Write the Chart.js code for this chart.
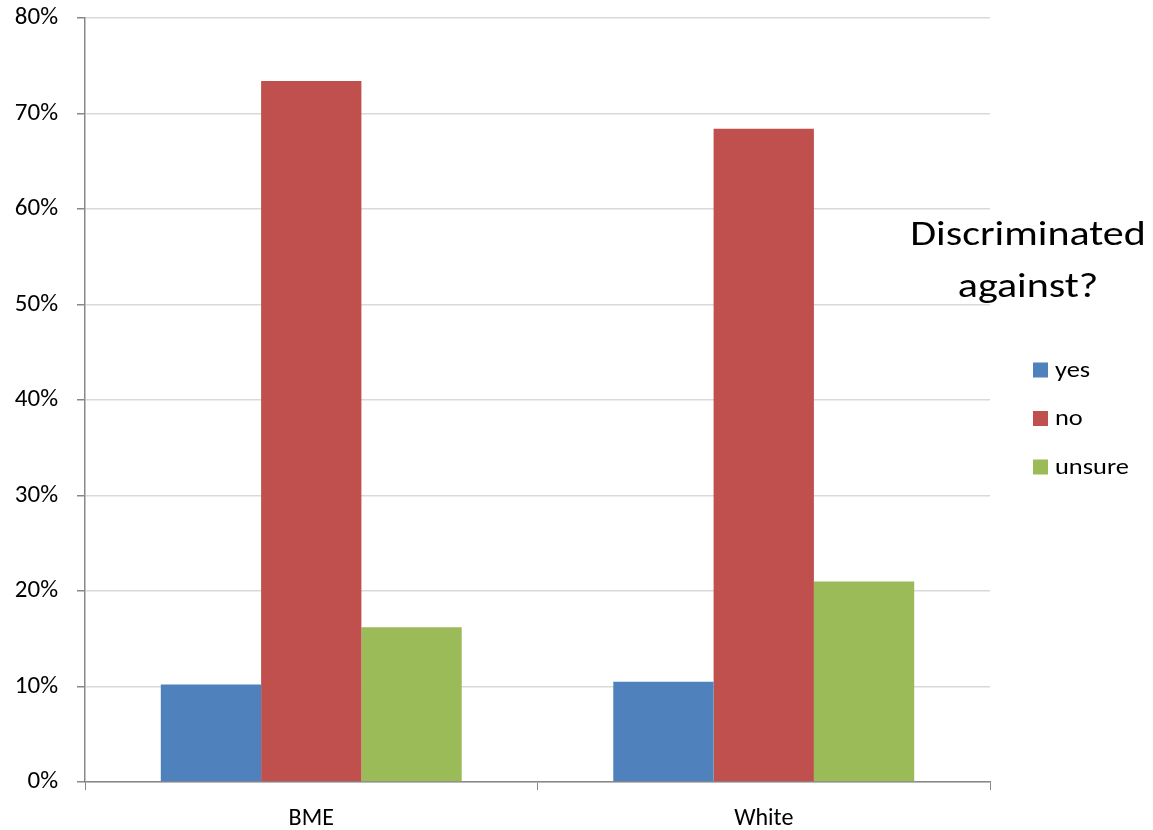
<!DOCTYPE html>
<html>
<head>
<meta charset="utf-8">
<script src="https://cdn.jsdelivr.net/npm/chart.js@4/dist/chart.umd.min.js"></script>
<style>
  html, body { margin: 0; padding: 0; background: #ffffff; }
  canvas { display: block; }
</style>
</head>
<body>
<canvas id="c" width="1153" height="830"></canvas>
<script>
const categories = ["BME", "White"];
const seriesNames = ["yes", "no", "unsure"];
const yesValues = [10.2, 10.5];
const noValues = [73.4, 68.4];
const unsureValues = [16.2, 21.0];
const seriesColors = ["#4F81BD", "#C0504D", "#9BBB59"];
const legendTitleLines = ["Discriminated", "against?"];
const yMax = 80;
const yStep = 10;

const FONT = "Carlito, Calibri, 'Liberation Sans', Arial, sans-serif";

function stretchedText(ctx, text, x, y, sx) {
  ctx.save();
  ctx.translate(x, y);
  ctx.scale(sx, 1);
  ctx.fillText(text, 0, 0);
  ctx.restore();
}

const legendPlugin = {
  id: 'customLegend',
  afterDraw(chart) {
    const ctx = chart.ctx;
    ctx.save();
    ctx.fillStyle = '#000';
    ctx.textAlign = 'center';
    ctx.textBaseline = 'alphabetic';
    ctx.font = "35px " + FONT;
    stretchedText(ctx, legendTitleLines[0], 1028, 245, 1.2);
    stretchedText(ctx, legendTitleLines[1], 1028, 297, 1.2);
    ctx.font = "22px " + FONT;
    ctx.textAlign = 'left';
    ctx.textBaseline = 'middle';
    const rows = [370, 418.5, 467];
    chart.data.datasets.forEach((ds, i) => {
      ctx.fillStyle = ds.backgroundColor;
      ctx.fillRect(1033, rows[i] - 7.5, 15, 15);
      ctx.fillStyle = '#000';
      stretchedText(ctx, ds.label, 1055, rows[i] + 1, 1.2);
    });
    ctx.restore();
  }
};

new Chart(document.getElementById('c'), {
  type: 'bar',
  data: {
    labels: categories,
    datasets: [
      { label: seriesNames[0], data: yesValues, backgroundColor: seriesColors[0] },
      { label: seriesNames[1], data: noValues, backgroundColor: seriesColors[1] },
      { label: seriesNames[2], data: unsureValues, backgroundColor: seriesColors[2] }
    ]
  },
  options: {
    responsive: false,
    animation: false,
    devicePixelRatio: 1,
    layout: { padding: { top: 18, right: 163, left: 0, bottom: 0 } },
    datasets: { bar: { categoryPercentage: 0.665, barPercentage: 1.0, borderWidth: 0 } },
    plugins: {
      legend: { display: false },
      tooltip: { enabled: false }
    },
    scales: {
      x: {
        grid: { display: true, drawOnChartArea: false, drawTicks: true, tickLength: 8, tickColor: '#888888', offset: true },
        border: { display: true, color: '#888888', width: 1.5 },
        ticks: { color: '#000', font: { family: FONT, size: 24 }, padding: 15 },
        afterFit(scale) { scale.height = 48; scale.paddingLeft = 0; scale.paddingRight = 0; }
      },
      y: {
        min: 0,
        max: yMax,
        ticks: {
          stepSize: yStep,
          color: '#000',
          font: { family: FONT, size: 25 },
          padding: 19,
          callback: v => v + '%'
        },
        grid: { color: '#d9d9d9', lineWidth: 1.5, tickLength: 8, tickColor: '#888888' },
        border: { display: true, color: '#888888', width: 1.5 },
        afterFit(scale) { scale.width = 85; scale.paddingTop = 0; scale.paddingBottom = 0; }
      }
    }
  },
  plugins: [legendPlugin]
});
</script>
</body>
</html>
